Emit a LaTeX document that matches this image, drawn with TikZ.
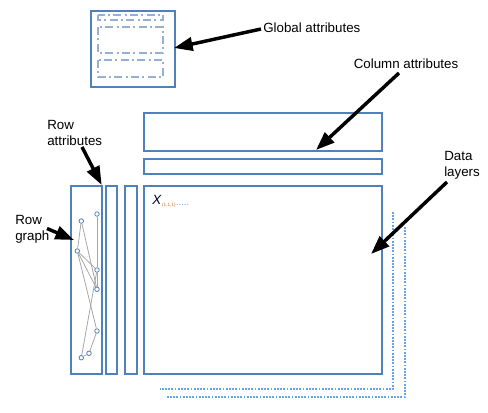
\documentclass[tikz,border=0pt]{standalone}
\usepackage{fontspec}
\setmainfont{Liberation Sans}
\usetikzlibrary{arrows.meta}
\usetikzlibrary{positioning}
\definecolor{mblue}{RGB}{79, 129, 189}
\definecolor{lblue}{RGB}{150, 176, 212}
\definecolor{dblue}{RGB}{100, 165, 235}
\definecolor{morange}{RGB}{200, 110, 40}
\tikzset{box/.style = {draw = mblue, line width = 0.9pt}}
\tikzset{inbox/.style = {draw = lblue, line width = 1.1pt, dash pattern = on 6pt off 2.5pt on 1.5pt off 2.5pt}}
\tikzset{layer/.style = {draw = dblue, line width = 0.9pt, dash pattern = on 1.4pt off 1pt}}
\tikzset{bigarrow/.style = {line width = 2.6pt, -{Triangle[length = 14pt, width = 10pt]}}}
\tikzset{gnode/.style = {draw = mblue, fill = white, circle, inner sep = 0, minimum size = 3.4pt, line width = 0.6pt}}
\tikzset{gedge/.style = {draw = black!35, line width = 0.6pt}}
\tikzset{lbl/.style = {font = \fontsize{10}{12}\selectfont, inner sep = 0, align = left}}

\begin{document}
\begin{tikzpicture}[x = 0.75pt, y = -0.75pt]
    \useasboundingbox (0, 0) rectangle (488, 412);

    % global attributes
    \draw [box] (91, 11) rectangle (175, 87);
    \draw [inbox] (98, 15) rectangle (163, 20);
    \draw [inbox] (98, 27) rectangle (163, 53);
    \draw [inbox] (98, 60) rectangle (163, 77);

    % column attributes
    \draw [box] (144, 113) rectangle (382, 151);
    \draw [box] (144, 159) rectangle (382, 174);

    % data layers
    \draw [layer] (405, 227) -- (405, 397) -- (167, 397);
    \draw [layer] (393, 212) -- (393, 389) -- (160, 389);
    \draw [box] (144, 186) rectangle (382, 374);
    \node [lbl, anchor = base west, text = black!85!blue] (x) at (152, 204) {\textit{X}};
    \node [lbl, anchor = base west, font = \fontsize{3.5}{4}\selectfont, text = morange] (xsub) at ([yshift = -2pt]x.base east) {(1,1,1)};
    \node [lbl, anchor = base west, font = \fontsize{7}{8}\selectfont, text = dblue] (xdots) at ([yshift = 1pt]xsub.base east) {.....};

    % row attributes and row graph
    \draw [box] (71, 186) rectangle (102, 374);
    \draw [box] (106, 186) rectangle (117, 374);
    \draw [box] (125, 186) rectangle (137, 374);

    \node [gnode] (a) at (81.3, 221) {};
    \node [gnode] (b) at (97, 214) {};
    \node [gnode] (c) at (77.3, 251) {};
    \node [gnode] (d) at (97, 270) {};
    \node [gnode] (e) at (97, 289.3) {};
    \node [gnode] (f) at (97, 331) {};
    \node [gnode] (g) at (89, 353.3) {};
    \node [gnode] (h) at (81.3, 357.7) {};
    \draw [gedge] (a) -- (c);
    \draw [gedge] (a) -- (e);
    \draw [gedge] (b) -- (d);
    \draw [gedge] (d) -- (e);
    \draw [gedge] (c) -- (d);
    \draw [gedge] (c) -- (e);
    \draw [gedge] (c) -- (f);
    \draw [gedge] (d) -- (h);
    \draw [gedge] (f) -- (g);
    \draw [gedge] (g) -- (h);

    % labels
    \node [lbl, anchor = west] (glob) at (263, 28) {Global attributes};
    \node [lbl] (col) at (406, 63.5) {Column attributes};
    \node [lbl, anchor = north west] (rowatt) at (47, 120) {Row\\attributes};
    \node [lbl, anchor = north west] (rowgr) at (15, 215) {Row\\graph};
    \node [lbl, anchor = north west] (data) at (444, 151) {Data\\layers};

    % arrows
    \coordinate (globtail) at (261, 29);
    \coordinate (globtip) at (174, 48);
    \coordinate (coltail) at (399, 73);
    \coordinate (coltip) at (316, 150);
    \coordinate (rowatttail) at (82, 147);
    \coordinate (rowatttip) at (101.7, 185);
    \coordinate (rowgrtail) at (47, 228.5);
    \coordinate (rowgrtip) at (74, 240);
    \coordinate (datatail) at (447, 182);
    \coordinate (datatip) at (371, 254);
    \draw [bigarrow] (globtail) -- (globtip);
    \draw [bigarrow] (coltail) -- (coltip);
    \draw [bigarrow] (rowatttail) -- (rowatttip);
    \draw [bigarrow] (rowgrtail) -- (rowgrtip);
    \draw [bigarrow] (datatail) -- (datatip);
  \end{tikzpicture}
\end{document}
